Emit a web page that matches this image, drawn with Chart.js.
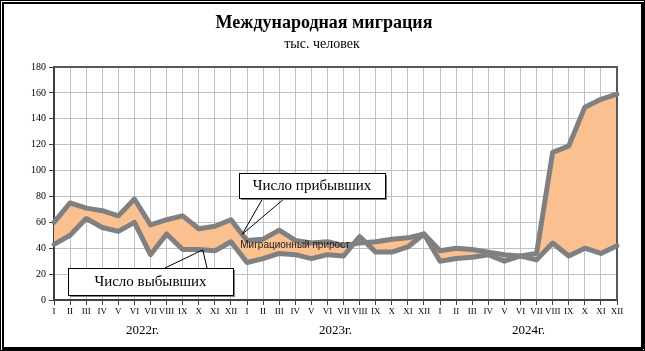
<!DOCTYPE html>
<html><head><meta charset="utf-8">
<script src="https://cdn.jsdelivr.net/npm/chart.js@4.4.1/dist/chart.umd.min.js"></script>
<style>html,body{margin:0;padding:0;background:#fff;}canvas{display:block;}</style>
</head><body>
<canvas id="c" width="645" height="351"></canvas>
<script>
const months = ["I","II","III","IV","V","VI","VII","VIII","IX","X","XI","XII"];
const years = ["2022г.","2023г.","2024г."];
const categories = [].concat(months, months, months);
const arrivals = [
  60,75,71,69,65,78,58,62,65,55,57,62,
  46,47,54,46,44,45,42,44,45,47,48,51,
  38,40,39,37,35,34,36,114,119,149,155,159
];
const departures = [
  43,50,63,56,53,60,35,51,39,39,38,45,
  29,32,36,35,32,35,34,49,37,37,41,51,
  30,32,33,35,30,34,31,44,34,40,36,42
];
const titleText = "Международная миграция";
const subtitleText = "тыс. человек";
const arrivalsLabel = "Число прибывших";
const departuresLabel = "Число выбывших";
const netLabel = "Миграционный прирост";

const SERIF = "'Liberation Serif','DejaVu Serif',serif";
const SANS = "'Liberation Sans',Arial,sans-serif";

const decor = {
  id: 'decor',
  beforeDatasetsDraw(chart) {
    const ctx = chart.ctx, a = chart.chartArea;
    ctx.save();
    ctx.strokeStyle = '#595959';
    ctx.lineWidth = 2;
    ctx.beginPath();
    ctx.moveTo(a.left, a.top); ctx.lineTo(a.right, a.top); ctx.lineTo(a.right, a.bottom);
    ctx.stroke();
    ctx.restore();
  },
  afterDraw(chart) {
    const ctx = chart.ctx, a = chart.chartArea;
    const xs = chart.scales.x, ys = chart.scales.y;
    ctx.save();
    // outer frame
    ctx.fillStyle = '#000';
    ctx.fillRect(0,0,645,1); ctx.fillRect(0,0,1,351); ctx.fillRect(644,0,1,351); ctx.fillRect(0,350,645,1);
    ctx.fillRect(2,2,641,2); ctx.fillRect(2,2,2,347); ctx.fillRect(641,2,3,347); ctx.fillRect(2,347,641,3);
    // titles
    ctx.textAlign = 'center'; ctx.textBaseline = 'middle';
    ctx.fillStyle = '#000';
    ctx.font = "bold 18px " + SERIF;
    ctx.fillText(titleText, 324, 23);
    ctx.font = "14px " + SERIF;
    ctx.fillText(subtitleText, 322, 44);
    // year labels
    ctx.font = "13px " + SERIF;
    years.forEach((y, i) => {
      const x = (xs.getPixelForValue(i*12) + xs.getPixelForValue(i*12+11)) / 2;
      ctx.fillText(y, x, 331);
    });
    // net migration label
    ctx.font = "10px " + SANS;
    ctx.fillStyle = '#1a1a1a';
    ctx.fillText(netLabel, 295, 245);
    // callouts
    function callout(box, text, starts, tx, ty) {
      ctx.strokeStyle = '#000'; ctx.lineWidth = 1;
      ctx.beginPath();
      starts.forEach(s => { ctx.moveTo(s[0], s[1]); ctx.lineTo(tx, ty); });
      ctx.stroke();
      ctx.fillStyle = '#808080';
      ctx.fillRect(box[0]+2, box[1]+2, box[2], box[3]);
      ctx.fillStyle = '#fff';
      ctx.fillRect(box[0], box[1], box[2], box[3]);
      ctx.strokeRect(box[0]+0.5, box[1]+0.5, box[2], box[3]);
      ctx.fillStyle = '#000';
      ctx.font = "15px " + SERIF;
      ctx.fillText(text, box[0] + box[2]/2, box[1] + box[3]/2 + 1);
    }
    const ia = 11.7;
    const va = arrivals[11] + (arrivals[12]-arrivals[11])*0.7;
    callout([239,173,146,25], arrivalsLabel, [[263,198],[285,198]], xs.getPixelForValue(ia), ys.getPixelForValue(va));
    const id = 9.25;
    const vd = departures[9] + (departures[10]-departures[9])*0.25;
    callout([68,268,165,27], departuresLabel, [[165,268],[207,268]], xs.getPixelForValue(id), ys.getPixelForValue(vd));
    ctx.restore();
  }
};

new Chart(document.getElementById('c'), {
  type: 'line',
  data: {
    labels: categories,
    datasets: [
      {
        label: arrivalsLabel,
        data: arrivals,
        borderColor: '#808080',
        borderWidth: 5,
        borderJoinStyle: 'round',
        borderCapStyle: 'round',
        pointRadius: 0,
        tension: 0,
        fill: { target: '+1', above: '#FAC090', below: 'rgba(0,0,0,0)' }
      },
      {
        label: departuresLabel,
        data: departures,
        borderColor: '#808080',
        borderWidth: 5,
        borderJoinStyle: 'round',
        borderCapStyle: 'round',
        pointRadius: 0,
        tension: 0,
        fill: false
      }
    ]
  },
  options: {
    responsive: false,
    animation: false,
    devicePixelRatio: 1,
    layout: { padding: { top: 67, right: 28, left: 0, bottom: 0 } },
    plugins: {
      legend: { display: false },
      tooltip: { enabled: false },
      filler: { drawTime: 'beforeDatasetsDraw' }
    },
    scales: {
      x: {
        offset: false,
        afterFit(s) { s.height = 51; },
        grid: { color: '#C0C0C0', lineWidth: 1, tickColor: '#404040', tickLength: 5, offset: false },
        border: { color: '#404040', width: 2 },
        ticks: { autoSkip: false, maxRotation: 0, minRotation: 0, color: '#000', font: { family: SERIF, size: 9 }, padding: 1 }
      },
      y: {
        min: 0, max: 180,
        afterFit(s) { s.width = 54; },
        grid: { color: '#C0C0C0', lineWidth: 1, tickColor: '#404040', tickLength: 5 },
        border: { color: '#404040', width: 2 },
        ticks: { stepSize: 20, color: '#000', font: { family: SERIF, size: 10 }, padding: 3 }
      }
    }
  },
  plugins: [decor]
});
</script>
</body></html>
